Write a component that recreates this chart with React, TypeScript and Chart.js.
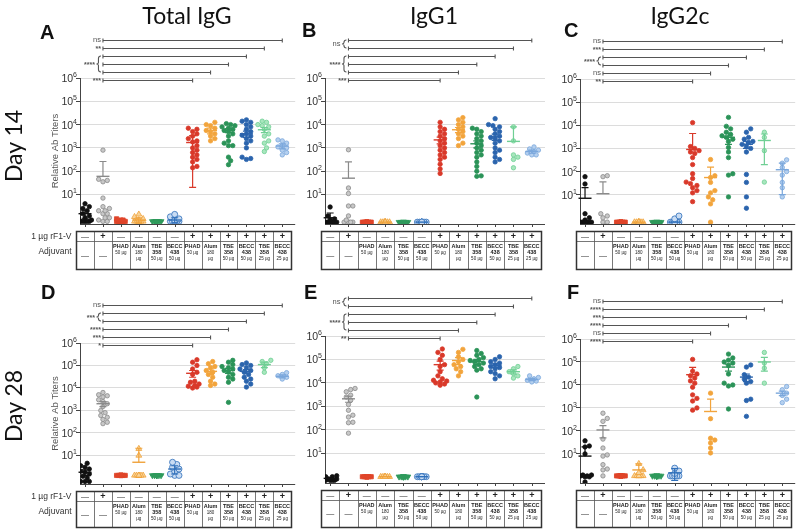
import React, { useEffect, useRef } from "react";
import { Chart, registerables } from "chart.js";
Chart.register(...registerables);

// ---------------- data ----------------
const groupColors = ["#111111", "#8a8a8a", "#e0452a", "#f0a23a", "#2f9a5c", "#2e6fba", "#d9392a", "#f2a43c", "#2b9358", "#2b64ad", "#6fcf94", "#7aa7dc"];
const groupFills = ["#111111", "#c8c8c8", "#e0452a", "#f8d49a", "#2f9a5c", "#c9dcf3", "#d9392a", "#f2a43c", "#2b9358", "#2b64ad", "#a8e6bd", "#b5d0ef"];
const groupStyles = ["circle", "circle", "rect", "triangle", "triangle", "circle", "circle", "circle", "circle", "circle", "circle", "circle"];
const groupRotation = [0, 0, 0, 0, 180, 0, 0, 0, 0, 0, 0, 0];
const groupRadius = [2.2, 2.2, 3.0, 3.4, 3.4, 3.0, 2.2, 2.2, 2.2, 2.2, 2.2, 2.2];

const rowOne = ["—", "+", "—", "—", "—", "—", "+", "+", "+", "+", "+", "+"];
const adjLine1 = ["—", "—", "PHAD", "Alum", "TBE", "BECC", "PHAD", "Alum", "TBE", "BECC", "TBE", "BECC"];
const adjLine2 = ["", "", "50 µg", "180", "358", "438", "50 µg", "180", "358", "438", "358", "438"];
const adjLine2Bold = [false, false, false, false, true, true, false, false, true, true, true, true];
const adjLine3 = ["", "", "", "µg", "50 µg", "50 µg", "", "µg", "50 µg", "50 µg", "25 µg", "25 µg"];

const yTickValues = [10, 100, 1000, 10000, 100000, 1000000];
const yTickExponents = ["1", "2", "3", "4", "5", "6"];

// Panel A: Total IgG, day 14
const titersA = [
  [4, 3, 2.5, 2, 1.5, 1.5, 1.2, 1, 1, 0.8, 0.7, 0.7, 0.7, 0.7, 0.7],
  [800, 45, 40, 35, 7, 3, 2.5, 2, 2, 1.5, 1.5, 1, 1, 0.8, 0.7, 0.7],
  [0.9, 0.8, 0.8, 0.7, 0.7, 0.7, 0.7, 0.7, 0.7, 0.7, 0.7, 0.7],
  [1.4, 1.1, 0.9, 0.8, 0.7, 0.7, 0.7, 0.7, 0.7, 0.7],
  [0.7, 0.7, 0.7, 0.7, 0.7, 0.7, 0.7, 0.7, 0.7, 0.7],
  [1.4, 1.1, 0.9, 0.8, 0.7, 0.7, 0.7, 0.7, 0.7, 0.7],
  [7000, 6300, 5000, 4000, 3200, 2500, 2000, 1800, 1250, 1000, 800, 630, 500, 400, 320, 250, 160, 140],
  [12500, 10000, 9000, 7000, 5600, 5000, 4000, 3200, 2500, 2000],
  [11000, 10000, 9000, 8000, 7000, 6300, 5600, 5000, 4000, 3200, 2000, 1600, 1250, 1250, 400, 280, 190],
  [16000, 14000, 12500, 10000, 8000, 6300, 5000, 4000, 3500, 3200, 2500, 2000, 1600, 1000, 400, 350, 320],
  [14000, 12500, 10000, 9000, 8000, 6300, 4000, 3200, 2000, 1600, 1000, 700],
  [2200, 2000, 1600, 1250, 1100, 1000, 800, 630, 500],
];
const meansA = [1.5, 60, 0.75, 0.8, 0.7, 0.8, 1700, 5500, 5500, 4000, 6000, 1200];
const errsA = [0.6, 200, 0, 0.2, 0, 0.2, 1680, 1500, 1000, 1200, 1500, 300];
const sigLabelsA = ["ns", "**", "****", "***"];
const sigRowsA = [[0], [1], [2, 3, 4], [5]];

// Panel B: IgG1, day 14
const titersB = [
  [2.9, 1.2, 0.9, 0.8, 0.65, 0.65, 0.65, 0.65, 0.65, 0.65, 0.65, 0.65, 0.65, 0.65],
  [830, 19, 11, 3.2, 3.2, 1.2, 0.8, 0.65, 0.65, 0.65, 0.65],
  [0.65, 0.65, 0.65, 0.65, 0.65, 0.65, 0.65, 0.65, 0.65, 0.65],
  [0.65, 0.65, 0.65, 0.65, 0.65, 0.65, 0.65, 0.65, 0.65, 0.65],
  [0.65, 0.65, 0.65, 0.65, 0.65, 0.65, 0.65, 0.65, 0.65, 0.65],
  [0.65, 0.65, 0.65, 0.65, 0.65, 0.65, 0.65, 0.65, 0.65, 0.65],
  [12500, 8000, 6300, 5000, 4000, 3200, 2500, 2000, 1600, 1250, 1000, 800, 630, 500, 400, 320, 200, 125, 80],
  [20000, 16000, 12500, 10000, 8000, 6300, 5000, 4000, 3200, 2500, 1600, 1250],
  [7000, 6300, 5000, 4000, 3200, 2500, 2000, 1600, 1250, 1000, 800, 630, 500, 400, 250, 160, 100, 63, 60],
  [18000, 10000, 9000, 8000, 6300, 5000, 4000, 3200, 2800, 2500, 2000, 1600, 1000, 800, 630, 400, 320, 250],
  [8000, 2000, 500, 400, 320, 140],
  [1100, 900, 800, 700, 600, 500, 500],
];
const meansB = [1, 50, 0.65, 0.65, 0.65, 0.65, 2200, 6000, 1500, 3000, 1900, 700];
const errsB = [0.6, 200, 0, 0, 0, 0, 700, 1500, 500, 900, 6000, 100];
const sigLabelsB = ["ns", "****", "***"];
const sigRowsB = [[0, 1], [2, 3, 4], [5]];

// Panel C: IgG2c, day 14
const titersC = [
  [60, 29, 1.5, 1, 0.8, 0.65, 0.65, 0.65, 0.65, 0.65, 0.65, 0.65, 0.65],
  [66, 60, 1.5, 1.2, 1, 0.65, 0.65],
  [0.65, 0.65, 0.65, 0.65, 0.65, 0.65, 0.65, 0.65, 0.65, 0.65],
  [0.65, 0.65, 0.65, 0.65, 0.65, 0.65, 0.65, 0.65, 0.65, 0.65],
  [0.65, 0.65, 0.65, 0.65, 0.65, 0.65, 0.65, 0.65, 0.65, 0.65],
  [1.2, 0.9, 0.65, 0.65, 0.65, 0.65, 0.65, 0.65, 0.65, 0.65],
  [13000, 1200, 1000, 800, 700, 600, 400, 200, 80, 50, 35, 30, 25, 20, 15, 12, 5],
  [330, 66, 55, 34, 15, 12, 8, 6, 4, 0.65],
  [22000, 9000, 7000, 5000, 4000, 3500, 3000, 2500, 2000, 1100, 700, 400, 80, 70, 8],
  [7000, 5000, 3000, 2500, 2000, 1800, 1500, 1200, 1000, 700, 75, 34, 8, 2.6],
  [5000, 3000, 800, 35],
  [320, 230, 150, 100, 70, 34, 20, 8],
];
const meansC = [7, 11, 0.65, 0.65, 0.65, 0.65, 900, 55, 3000, 1500, 2200, 120];
const errsC = [13, 25, 0, 0, 0, 0, 3500, 100, 1500, 500, 2000, 110];
const sigLabelsC = ["ns", "***", "****", "ns", "**"];
const sigRowsC = [[0], [1], [2, 3], [4], [5]];

// Panel D: Total IgG, day 28
const titersD = [
  [4.5, 3.5, 3, 2.5, 2, 1.8, 1.5, 1.2, 1, 0.7, 0.7, 0.7],
  [6300, 5000, 4500, 4000, 3000, 2500, 2000, 1500, 1000, 800, 600, 500, 400, 300, 260],
  [1.3, 1.3, 1.3, 1.3, 1.3, 1.3, 1.3, 1.3, 1.3, 1.3],
  [20, 10, 1.3, 1.3, 1.3, 1.3, 1.3, 1.3, 1.3, 1.3],
  [1.3, 1.3, 1.3, 1.3, 1.3, 1.3, 1.3, 1.3],
  [5, 4, 3, 2.5, 2, 1.5, 1.3, 1.3],
  [180000, 140000, 100000, 70000, 50000, 40000, 20000, 18000, 15000, 13000, 12000, 11000, 10000],
  [150000, 120000, 90000, 80000, 60000, 50000, 40000, 30000, 20000, 15000, 13000],
  [170000, 140000, 110000, 90000, 80000, 70000, 60000, 50000, 40000, 30000, 25000, 18000, 2300],
  [130000, 110000, 100000, 80000, 70000, 60000, 50000, 40000, 30000, 25000, 20000, 15000, 11000],
  [170000, 150000, 120000, 80000, 50000],
  [48000, 40000, 35000, 30000, 25000],
];
const meansD = [1.8, 2000, 1.3, 5, 1.3, 2.5, 45000, 55000, 60000, 55000, 110000, 33000];
const errsD = [0.5, 500, 0, 16, 0, 1, 15000, 15000, 15000, 10000, 30000, 5000];
const sigLabelsD = ["ns", "***", "****", "***", "*"];
const sigRowsD = [[0], [1, 2], [3], [4], [5]];

// Panel E: IgG1, day 28
const titersE = [
  [1.1, 1, 1, 0.9, 0.8, 0.8, 0.7, 0.7, 0.7, 0.7],
  [5800, 5200, 4200, 3000, 2500, 1800, 1200, 680, 420, 350, 210, 200, 72],
  [1, 1, 1, 1, 1, 1, 1, 1, 1, 1],
  [1, 1, 1, 1, 1, 1, 1, 1, 1, 1],
  [1, 1, 1, 1, 1, 1, 1, 1, 1, 1],
  [1, 1, 1, 1, 1, 1, 1, 1, 1, 1],
  [280000, 200000, 150000, 100000, 60000, 50000, 30000, 20000, 15000, 13000, 12000, 11000, 10000, 9000, 8000],
  [270000, 200000, 130000, 100000, 80000, 60000, 50000, 40000, 30000, 20000],
  [240000, 180000, 150000, 120000, 100000, 90000, 80000, 70000, 60000, 50000, 40000, 35000, 2500],
  [130000, 100000, 80000, 70000, 60000, 50000, 45000, 40000, 30000, 25000, 20000, 15000],
  [50000, 40000, 30000, 25000, 20000, 16000],
  [20000, 17000, 15000, 13000, 12000, 11000],
];
const meansE = [0.85, 2100, 1, 1, 1, 1, 60000, 90000, 80000, 55000, 30000, 14000];
const errsE = [0.1, 600, 0, 0, 0, 0, 25000, 30000, 20000, 10000, 6000, 1500];
const sigLabelsE = ["ns", "****", "**"];
const sigRowsE = [[0, 1], [2, 3, 4], [5]];

// Panel F: IgG2c, day 28
const titersF = [
  [37, 22, 20, 10, 1.2, 1.2, 1.1, 1.1, 1, 1, 0.6],
  [590, 350, 260, 44, 18, 9, 8, 3.4, 2.2, 2, 1.1],
  [1.1, 1.1, 1.1, 1.1, 1.1, 1.1, 1.1, 1.1, 1.1, 1.1],
  [3.7, 2, 1.5, 1.1, 1.1, 1.1, 1.1, 1.1, 1.1, 1.1],
  [1.1, 1.1, 1.1, 1.1, 1.1, 1.1, 1.1, 1.1, 1.1, 1.1],
  [2.4, 1.8, 1.4, 1.1, 1.1, 1.1, 1.1, 1.1, 1.1],
  [130000, 40000, 30000, 25000, 20000, 15000, 12000, 8000, 3700, 2600, 2000, 1000, 800],
  [4400, 340, 48, 40, 30, 18, 11],
  [220000, 150000, 120000, 100000, 90000, 70000, 30000, 12000, 10000, 9000, 900],
  [74000, 60000, 28000, 22000, 18000, 14000, 12000, 2400, 2100, 430],
  [260000, 90000, 54000, 12000],
  [8500, 6200, 4400, 3500, 2400, 1700],
];
const meansF = [8, 110, 1.1, 2, 1.1, 1.5, 28000, 700, 60000, 22000, 100000, 4400];
const errsF = [12, 60, 0, 1.7, 0, 0.8, 30000, 1700, 20000, 8000, 60000, 1000];
const sigLabelsF = ["ns", "****", "***", "****", "ns", "****"];
const sigRowsF = [[0], [1], [2], [3], [4], [5]];

const sigTargets = [12, 11, 10, 9, 8, 7];

// ---------------- layout ----------------
const Y_MIN = 0.54;
const X_MIN = 0.72;
const X_MAX = 12.72;
const rowOffsets = [-38, -30, -22, -14, -6, 2];

type PanelCfg = {
  key: string; left: number; top: number; w: number; h: number;
  yW: number; padR: number; padT: number; padB: number;
  titers: number[][]; means: number[]; errs: number[];
  sigLabels: string[]; sigRows: number[][]; yTitle: boolean; rowLabels: boolean;
};

const panels: PanelCfg[] = [
  { key: "A", left: 0, top: 0, w: 300, h: 272, yW: 80, padR: 2, padT: 78, padB: 48, titers: titersA, means: meansA, errs: errsA, sigLabels: sigLabelsA, sigRows: sigRowsA, yTitle: true, rowLabels: true },
  { key: "B", left: 300, top: 0, w: 250, h: 272, yW: 25, padR: 5, padT: 78, padB: 48, titers: titersB, means: meansB, errs: errsB, sigLabels: sigLabelsB, sigRows: sigRowsB, yTitle: false, rowLabels: false },
  { key: "C", left: 550, top: 0, w: 250, h: 272, yW: 30, padR: 2, padT: 79, padB: 48, titers: titersC, means: meansC, errs: errsC, sigLabels: sigLabelsC, sigRows: sigRowsC, yTitle: false, rowLabels: false },
  { key: "D", left: 0, top: 272, w: 300, h: 258, yW: 80, padR: 2, padT: 71, padB: 46, titers: titersD, means: meansD, errs: errsD, sigLabels: sigLabelsD, sigRows: sigRowsD, yTitle: true, rowLabels: true },
  { key: "E", left: 300, top: 272, w: 250, h: 258, yW: 25, padR: 5, padT: 64, padB: 47, titers: titersE, means: meansE, errs: errsE, sigLabels: sigLabelsE, sigRows: sigRowsE, yTitle: false, rowLabels: false },
  { key: "F", left: 550, top: 272, w: 250, h: 258, yW: 30, padR: 2, padT: 67, padB: 47, titers: titersF, means: meansF, errs: errsF, sigLabels: sigLabelsF, sigRows: sigRowsF, yTitle: false, rowLabels: false },
];

// beeswarm-style horizontal spreading of points sharing similar values
function swarm(values: number[], center: number, pxPerX: number, pxPerDec: number, maxSlots: number) {
  const sorted = values.map((v) => ({ v, l: Math.log10(v) })).sort((a, b) => a.l - b.l);
  const placed: { off: number; l: number; v: number }[] = [];
  const step = 0.12;
  const minD = 4.2;
  for (const p of sorted) {
    let chosen = 0;
    let bestScore = -1;
    for (let k = 0; k < maxSlots; k++) {
      const off = k === 0 ? 0 : (k % 2 === 1 ? 1 : -1) * Math.ceil(k / 2) * step;
      let nearest = Infinity;
      placed.forEach((q) => {
        const dx = (q.off - off) * pxPerX;
        const dy = (q.l - p.l) * pxPerDec;
        nearest = Math.min(nearest, Math.sqrt(dx * dx + dy * dy));
      });
      if (nearest >= minD) { chosen = off; bestScore = Infinity; break; }
      if (nearest > bestScore) { bestScore = nearest; chosen = off; }
    }
    placed.push({ off: chosen, l: p.l, v: p.v });
  }
  return placed.map((p) => ({ x: center + p.off, y: p.v }));
}

function makePlugin(p: PanelCfg) {
  return {
    id: "panelDecor" + p.key,
    afterDatasetsDraw(chart: any) {
      const ctx = chart.ctx as CanvasRenderingContext2D;
      const xs = chart.scales.x;
      const ys = chart.scales.y;
      p.means.forEach((m: number, g: number) => {
        const x = xs.getPixelForValue(g + 1);
        const e = p.errs[g];
        const ym = ys.getPixelForValue(m);
        ctx.save();
        ctx.strokeStyle = groupColors[g];
        ctx.lineWidth = 1.2;
        if (e > 0) {
          const yt = ys.getPixelForValue(m + e);
          const lo = m - e;
          const yl = lo > Y_MIN ? ys.getPixelForValue(lo) : ym;
          ctx.beginPath();
          ctx.moveTo(x, yt); ctx.lineTo(x, yl);
          ctx.moveTo(x - 3.5, yt); ctx.lineTo(x + 3.5, yt);
          if (lo > Y_MIN) { ctx.moveTo(x - 3.5, yl); ctx.lineTo(x + 3.5, yl); }
          ctx.stroke();
        }
        ctx.lineWidth = 1.4;
        ctx.beginPath();
        ctx.moveTo(x - 6.5, ym); ctx.lineTo(x + 6.5, ym);
        ctx.stroke();
        ctx.restore();
      });
    },
    afterDraw(chart: any) {
      const ctx = chart.ctx as CanvasRenderingContext2D;
      const xs = chart.scales.x;
      const ys = chart.scales.y;
      const ca = chart.chartArea;
      ctx.save();
      // x axis line and ticks
      ctx.strokeStyle = "#444";
      ctx.lineWidth = 1;
      ctx.beginPath();
      ctx.moveTo(ca.left, ca.bottom + 0.5);
      ctx.lineTo(ca.right, ca.bottom + 0.5);
      for (let g = 1; g <= 12; g++) {
        const x = Math.round(xs.getPixelForValue(g)) + 0.5;
        ctx.moveTo(x, ca.bottom); ctx.lineTo(x, ca.bottom + 3);
      }
      ctx.stroke();

      // y tick labels 10^n
      ctx.fillStyle = "#333";
      ctx.textBaseline = "alphabetic";
      yTickValues.forEach((v, i) => {
        const y = ys.getPixelForValue(v);
        const exp = yTickExponents[i];
        ctx.font = "7px Arial";
        const wE = ctx.measureText(exp).width;
        ctx.font = "10.5px Arial";
        const w10 = ctx.measureText("10").width;
        const xEnd = ca.left - 3;
        ctx.textAlign = "left";
        ctx.fillText("10", xEnd - wE - w10, y + 4);
        ctx.font = "7px Arial";
        ctx.fillText(exp, xEnd - wE, y - 1);
      });

      // y axis title
      if (p.yTitle) {
        ctx.save();
        ctx.translate(ca.left - 25, (ca.top + ca.bottom) / 2);
        ctx.rotate(-Math.PI / 2);
        ctx.textAlign = "center";
        ctx.textBaseline = "middle";
        ctx.font = "9.5px Arial";
        ctx.fillStyle = "#555";
        ctx.fillText("Relative Ab Titers", 0, 0);
        ctx.restore();
      }

      // significance brackets
      const x1 = xs.getPixelForValue(2);
      ctx.strokeStyle = "#555";
      ctx.fillStyle = "#555";
      ctx.lineWidth = 1.1;
      p.sigLabels.forEach((label, li) => {
        const rows = p.sigRows[li];
        rows.forEach((r) => {
          const y = Math.round(ca.top + rowOffsets[r]) + 0.5;
          const x2 = xs.getPixelForValue(sigTargets[r]);
          ctx.beginPath();
          ctx.moveTo(x1, y); ctx.lineTo(x2, y);
          ctx.moveTo(x1, y - 2); ctx.lineTo(x1, y + 2);
          ctx.moveTo(x2, y - 2); ctx.lineTo(x2, y + 2);
          ctx.stroke();
        });
        const yA = ca.top + rowOffsets[rows[0]];
        const yB = ca.top + rowOffsets[rows[rows.length - 1]];
        const yMid = (yA + yB) / 2;
        let lx = x1 - 2;
        if (rows.length > 1) {
          const bx = x1 - 2;
          ctx.beginPath();
          ctx.moveTo(bx, yA);
          ctx.quadraticCurveTo(bx - 2.5, yA, bx - 2.5, yA + 2.5);
          ctx.lineTo(bx - 2.5, yMid - 1.5);
          ctx.quadraticCurveTo(bx - 2.5, yMid, bx - 4.5, yMid);
          ctx.quadraticCurveTo(bx - 2.5, yMid, bx - 2.5, yMid + 1.5);
          ctx.lineTo(bx - 2.5, yB - 2.5);
          ctx.quadraticCurveTo(bx - 2.5, yB, bx, yB);
          ctx.stroke();
          lx = bx - 6;
        }
        ctx.font = label === "ns" ? "7.5px Arial" : "bold 7px Arial";
        ctx.textAlign = "right";
        ctx.textBaseline = "middle";
        ctx.fillText(label, lx, label === "ns" ? yMid - 0.5 : yMid + 1);
      });

      // table
      const tL = Math.round(xs.getPixelForValue(0.5)) + 0.5;
      const tR = Math.round(xs.getPixelForValue(12.5)) + 0.5;
      const tT = Math.round(ca.bottom + 7) + 0.5;
      const tM = tT + 10;
      const tB = chart.height - 2.5;
      ctx.strokeStyle = "#555";
      ctx.lineWidth = 0.8;
      ctx.beginPath();
      ctx.moveTo(tL, tM); ctx.lineTo(tR, tM);
      for (let g = 1; g < 12; g++) {
        const x = Math.round(xs.getPixelForValue(g + 0.5)) + 0.5;
        ctx.moveTo(x, tT); ctx.lineTo(x, tB);
      }
      ctx.stroke();
      ctx.strokeStyle = "#333";
      ctx.lineWidth = 1.5;
      ctx.strokeRect(tL, tT, tR - tL, tB - tT);

      ctx.fillStyle = "#222";
      ctx.textAlign = "center";
      ctx.textBaseline = "middle";
      for (let g = 0; g < 12; g++) {
        const x = xs.getPixelForValue(g + 1);
        ctx.font = rowOne[g] === "+" ? "bold 9px Arial" : "8px Arial";
        ctx.fillText(rowOne[g], x, tT + 5.5);
        if (adjLine1[g] === "—") {
          ctx.font = "8px Arial";
          ctx.fillText("—", x, (tM + tB) / 2);
        } else {
          ctx.font = "bold 5.5px Arial";
          ctx.fillText(adjLine1[g], x, tM + 5);
          ctx.font = adjLine2Bold[g] ? "bold 5.5px Arial" : "4.5px Arial";
          ctx.fillText(adjLine2[g], x, tM + 11);
          ctx.font = "4.5px Arial";
          ctx.fillText(adjLine3[g], x, tM + 17);
        }
      }
      if (p.rowLabels) {
        ctx.textAlign = "right";
        ctx.font = "8.5px Arial";
        ctx.fillStyle = "#333";
        ctx.fillText("1 µg rF1-V", tL - 5, tT + 5.5);
        ctx.fillText("Adjuvant", tL - 5, tM + 10);
      }
      ctx.restore();
    },
  };
}

function Panel({ p }: { p: PanelCfg }) {
  const ref = useRef<HTMLCanvasElement>(null);
  useEffect(() => {
    const canvas = ref.current;
    if (!canvas) return;
    const pxPerX = (p.w - p.yW - p.padR) / (X_MAX - X_MIN);
    const pxPerDec = (p.h - p.padT - p.padB) / (6 - Math.log10(Y_MIN));
    const datasets = p.titers.map((vals, g) => ({
      label: "group " + (g + 1),
      data: swarm(vals, g + 1, pxPerX, pxPerDec, g >= 2 && g <= 5 ? 5 : 7),
      backgroundColor: groupFills[g],
      borderColor: groupColors[g],
      borderWidth: 0.8,
      pointStyle: groupStyles[g] as any,
      rotation: groupRotation[g],
      pointRadius: groupRadius[g],
    }));
    const chart = new Chart(canvas, {
      type: "scatter",
      data: { datasets },
      options: {
        responsive: false,
        animation: false,
        devicePixelRatio: 1,
        layout: { padding: { left: 0, right: p.padR, top: p.padT, bottom: p.padB } },
        plugins: { legend: { display: false }, tooltip: { enabled: false } },
        scales: {
          x: { type: "linear", min: X_MIN, max: X_MAX, display: false },
          y: {
            type: "logarithmic",
            min: Y_MIN,
            max: 1000000,
            afterBuildTicks: (s: any) => { s.ticks = yTickValues.map((v) => ({ value: v })); },
            afterFit: (s: any) => { s.width = p.yW; },
            ticks: { display: false },
            grid: { color: "#dcdcdc", lineWidth: 1, tickLength: 4, tickColor: "#444", drawTicks: true },
            border: { display: true, color: "#444", width: 1 },
          },
        },
      } as any,
      plugins: [makePlugin(p)],
    });
    return () => chart.destroy();
  }, [p]);
  return (
    <canvas
      ref={ref}
      width={p.w}
      height={p.h}
      style={{ position: "absolute", left: p.left, top: p.top, width: p.w, height: p.h }}
    />
  );
}

const colTitles = ["Total IgG", "IgG1", "IgG2c"];
const colTitleCenters = [187, 434, 680];
const dayLabels = ["Day 14", "Day 28"];
const dayCenters = [146, 406];

export default function App() {
  const letterPos: Record<string, [number, number]> = { A: [40, 22], B: [302, 20], C: [564, 20], D: [41, 282], E: [304, 282], F: [567, 282] };
  return (
    <div style={{ position: "absolute", left: 0, top: 0, width: 800, height: 530, background: "#fff", overflow: "hidden" }}>
      {panels.map((p) => (
        <Panel key={p.key} p={p} />
      ))}
      {colTitles.map((t, i) => (
        <div key={t} style={{ position: "absolute", left: colTitleCenters[i] - 100, width: 200, top: 0, textAlign: "center", font: "23px Lato, 'Open Sans', sans-serif", lineHeight: "30px", color: "#111" }}>
          {t}
        </div>
      ))}
      {dayLabels.map((t, i) => (
        <div key={t} style={{ position: "absolute", left: 13, top: dayCenters[i], transform: "translate(-50%, -50%) rotate(-90deg)", font: "23px Lato, 'Open Sans', sans-serif", whiteSpace: "nowrap", color: "#111" }}>
          {t}
        </div>
      ))}
      {Object.keys(letterPos).map((k) => (
        <div key={k} style={{ position: "absolute", left: letterPos[k][0], top: letterPos[k][1], font: "bold 20px Arial, sans-serif", lineHeight: "20px", color: "#111" }}>
          {k}
        </div>
      ))}
    </div>
  );
}
